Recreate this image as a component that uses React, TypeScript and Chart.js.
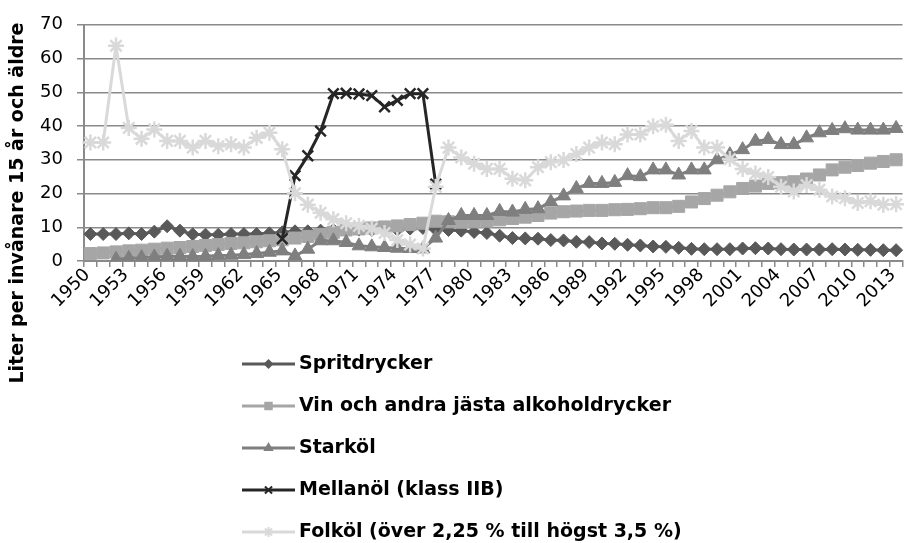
import React, { useEffect, useRef } from "react";
import { Chart, registerables } from "chart.js";

Chart.register(...registerables);

const years = [
  "1950", "1951", "1952", "1953", "1954", "1955", "1956", "1957", "1958", "1959",
  "1960", "1961", "1962", "1963", "1964", "1965", "1966", "1967", "1968", "1969",
  "1970", "1971", "1972", "1973", "1974", "1975", "1976", "1977", "1978", "1979",
  "1980", "1981", "1982", "1983", "1984", "1985", "1986", "1987", "1988", "1989",
  "1990", "1991", "1992", "1993", "1994", "1995", "1996", "1997", "1998", "1999",
  "2000", "2001", "2002", "2003", "2004", "2005", "2006", "2007", "2008", "2009",
  "2010", "2011", "2012", "2013",
];

// tick labels shown on the x axis (every third year)
const xTickLabels = [
  "1950", "1953", "1956", "1959", "1962", "1965", "1968", "1971", "1974", "1977",
  "1980", "1983", "1986", "1989", "1992", "1995", "1998", "2001", "2004", "2007",
  "2010", "2013",
];

const spritdrycker = [
  8.0, 8.0, 8.0, 8.2, 8.0, 8.7, 10.3, 9.0, 7.9, 7.8,
  7.8, 8.0, 8.0, 8.0, 8.2, 8.5, 8.8, 8.8, 9.0, 9.2,
  9.4, 9.3, 9.2, 9.1, 9.3, 9.6, 9.8, 9.3, 9.2, 9.0,
  8.6, 8.3, 7.5, 6.8, 6.7, 6.6, 6.2, 6.1, 5.7, 5.6,
  5.2, 5.1, 4.8, 4.6, 4.3, 4.2, 3.9, 3.6, 3.5, 3.5,
  3.5, 3.7, 3.8, 3.7, 3.5, 3.4, 3.4, 3.4, 3.5, 3.4,
  3.3, 3.3, 3.2, 3.2,
];

const vin = [
  2.2, 2.4, 2.7, 3.0, 3.2, 3.5, 3.8, 4.0, 4.3, 4.6,
  4.9, 5.2, 5.4, 5.7, 6.0, 6.3, 6.8, 7.3, 7.9, 8.5,
  9.2, 9.5, 9.8, 10.1, 10.4, 10.8, 11.2, 11.8, 11.6, 11.5,
  11.6, 11.8, 12.2, 12.6, 13.0, 13.5, 14.2, 14.6, 14.8, 15.0,
  15.0, 15.2, 15.3, 15.5, 15.8, 15.8, 16.2, 17.5, 18.5, 19.5,
  20.5, 21.5, 22.2, 23.0, 23.2, 23.5, 24.3, 25.5, 27.0, 27.8,
  28.3, 29.0, 29.5, 30.0,
];

const starkol = [
  null, null, 0.5, 0.8, 1.0, 1.2, 1.4, 1.4, 1.3, 1.4,
  1.6, 1.7, 1.9, 2.2, 2.6, 3.0, 1.5, 3.5, 6.0, 6.0,
  5.5, 4.5, 4.2, 4.0, 3.8, 3.7, 3.6, 6.8, 12.0, 13.5,
  13.5, 13.5, 14.7, 14.5, 15.3, 15.5, 17.5, 19.3, 21.5, 23.0,
  23.0, 23.3, 25.3, 25.0, 27.0, 27.0, 25.5, 27.0, 27.0, 30.0,
  31.5, 33.0, 35.5, 36.0, 34.5, 34.5, 36.5, 38.0, 38.7, 39.2,
  38.8, 38.8, 38.8, 39.3,
];

const mellanol = [
  null, null, null, null, null, null, null, null, null, null,
  null, null, null, null, null, 6.6, 25.3, 31.2, 38.5, 49.6,
  49.7, 49.5, 49.0, 45.7, 47.6, 49.6, 49.6, 22.8, null, null,
  null, null, null, null, null, null, null, null, null, null,
  null, null, null, null, null, null, null, null, null, null,
  null, null, null, null, null, null, null, null, null, null,
  null, null, null, null,
];

const folkol = [
  35.1, 35.1, 63.8, 39.4, 36.2, 39.0, 35.6, 35.6, 33.6, 35.6,
  34.0, 34.6, 33.6, 36.5, 38.0, 33.1, 20.1, 16.7, 14.3, 12.4,
  11.2, 10.4, 9.6, 8.3, 6.2, 4.9, 3.7, 22.0, 33.6, 30.7,
  28.8, 27.3, 27.3, 24.4, 23.9, 27.8, 29.3, 29.9, 31.7, 33.6,
  35.1, 34.6, 37.5, 37.5, 39.9, 40.4, 35.6, 38.5, 33.6, 33.6,
  30.2, 27.3, 25.9, 24.9, 22.0, 20.6, 22.5, 21.1, 19.1, 18.6,
  17.2, 17.7, 16.7, 16.8,
];

const yTicks = [0, 10, 20, 30, 40, 50, 60, 70];

const seriesNames = [
  "Spritdrycker",
  "Vin och andra jästa alkoholdrycker",
  "Starköl",
  "Mellanöl (klass IIB)",
  "Folköl (över 2,25 % till högst 3,5 %)",
];
const yTitle = "Liter per invånare 15 år och äldre";

const FONT = "'DejaVu Sans', Verdana, sans-serif";
const colors = ["#595959", "#a6a6a6", "#7f7f7f", "#262626", "#d9d9d9"];
const styles = ["rectRot", "rect", "triangle", "crossRot", "star"];
const radii = [6.5, 8.5, 8, 7.5, 8];
const legendRadii = [5, 6, 6, 5, 5];

function drawMarker(ctx: CanvasRenderingContext2D, style: string, x: number, y: number, r: number, color: string) {
  ctx.save();
  ctx.fillStyle = color;
  ctx.strokeStyle = color;
  ctx.lineWidth = 2;
  ctx.beginPath();
  if (style === "rectRot") {
    ctx.moveTo(x, y - r);
    ctx.lineTo(x + r, y);
    ctx.lineTo(x, y + r);
    ctx.lineTo(x - r, y);
    ctx.closePath();
    ctx.fill();
  } else if (style === "rect") {
    const s = r * Math.SQRT1_2;
    ctx.rect(x - s, y - s, 2 * s, 2 * s);
    ctx.fill();
  } else if (style === "triangle") {
    ctx.moveTo(x, y - r);
    ctx.lineTo(x + r * 0.866, y + r * 0.5);
    ctx.lineTo(x - r * 0.866, y + r * 0.5);
    ctx.closePath();
    ctx.fill();
  } else if (style === "crossRot") {
    const d = r * Math.SQRT1_2;
    ctx.moveTo(x - d, y - d);
    ctx.lineTo(x + d, y + d);
    ctx.moveTo(x - d, y + d);
    ctx.lineTo(x + d, y - d);
    ctx.stroke();
  } else if (style === "star") {
    const d = r * Math.SQRT1_2;
    ctx.moveTo(x - d, y - d);
    ctx.lineTo(x + d, y + d);
    ctx.moveTo(x - d, y + d);
    ctx.lineTo(x + d, y - d);
    ctx.moveTo(x, y - r);
    ctx.lineTo(x, y + r);
    ctx.stroke();
  }
  ctx.restore();
}

export default function App() {
  const ref = useRef<HTMLCanvasElement>(null);

  useEffect(() => {
    if (!ref.current) return;
    const seriesData = [spritdrycker, vin, starkol, mellanol, folkol];

    const decorPlugin = {
      id: "excelDecor",
      afterDraw(chart: any) {
        const ctx: CanvasRenderingContext2D = chart.ctx;
        const xScale = chart.scales.x;
        ctx.save();
        // rotated x tick labels
        ctx.font = `18px ${FONT}`;
        ctx.fillStyle = "#000";
        ctx.textAlign = "right";
        ctx.textBaseline = "middle";
        xTickLabels.forEach((lbl) => {
          const idx = years.indexOf(lbl);
          const px = xScale.getPixelForValue(idx);
          ctx.save();
          ctx.translate(px - 3, xScale.top + 11);
          ctx.rotate(-Math.PI / 4);
          ctx.fillText(lbl, 0, 0);
          ctx.restore();
        });

        // legend
        const rowsY = [364, 406, 448, 490, 532];
        seriesNames.forEach((name, i) => {
          const y = rowsY[i];
          ctx.strokeStyle = colors[i];
          ctx.lineWidth = 3;
          ctx.beginPath();
          ctx.moveTo(242, y);
          ctx.lineTo(295, y);
          ctx.stroke();
          drawMarker(ctx, styles[i], 268.5, y, legendRadii[i], colors[i]);
          ctx.fillStyle = "#000";
          ctx.font = `bold 19px ${FONT}`;
          ctx.textAlign = "left";
          ctx.textBaseline = "middle";
          ctx.fillText(name, 299, y);
        });
        // y-axis title
        ctx.translate(18, 203);
        ctx.rotate(-Math.PI / 2);
        ctx.font = `bold 19px ${FONT}`;
        ctx.textAlign = "center";
        ctx.textBaseline = "middle";
        ctx.fillStyle = "#000";
        ctx.fillText(yTitle, 0, 0);
        ctx.restore();
      },
    };

    const chart = new Chart(ref.current, {
      type: "line",
      data: {
        labels: years,
        datasets: seriesNames.map((name, i) => ({
          label: name,
          data: seriesData[i],
          borderColor: colors[i],
          backgroundColor: colors[i],
          borderWidth: 3,
          pointStyle: styles[i] as any,
          pointRadius: radii[i],
          pointHoverRadius: radii[i],
          pointBackgroundColor: colors[i],
          pointBorderColor: colors[i],
          pointBorderWidth: i >= 3 ? 2.5 : 1,
          tension: 0,
          spanGaps: false,
          order: 4 - i,
        })),
      },
      options: {
        animation: false,
        responsive: true,
        maintainAspectRatio: false,
        layout: { padding: { top: 19, right: 1, bottom: 232, left: 0 } },
        plugins: {
          legend: { display: false },
          tooltip: { enabled: false },
          title: { display: false },
        },
        scales: {
          x: {
            type: "category",
            offset: true,
            grid: {
              offset: true,
              drawOnChartArea: false,
              drawTicks: true,
              tickLength: 6,
              color: "#8a8a8a",
              lineWidth: 1.5,
            },
            border: { display: true, color: "#8a8a8a", width: 2 },
            ticks: {
              autoSkip: false,
              maxRotation: 0,
              minRotation: 0,
              color: "rgba(0,0,0,0)",
              font: { family: FONT, size: 10 },
              callback: () => "",
            },
            afterFit: (scale: any) => {
              scale.height = 50;
            },
          },
          y: {
            min: yTicks[0],
            max: yTicks[yTicks.length - 1],
            afterBuildTicks: (scale: any) => {
              scale.ticks = yTicks.map((v) => ({ value: v }));
            },
            grid: {
              color: "#8a8a8a",
              lineWidth: 1.5,
              drawTicks: true,
              tickLength: 7,
            },
            border: { display: true, color: "#8a8a8a", width: 2 },
            ticks: {
              color: "#000",
              padding: 14,
              font: { family: FONT, size: 18 },
            },
            afterFit: (scale: any) => {
              scale.width = 84;
            },
          },
        },
      },
      plugins: [decorPlugin],
    });

    return () => chart.destroy();
  }, []);

  return (
    <div style={{ position: "absolute", left: 0, top: 0, width: 913, height: 543, background: "#fff" }}>
      <canvas ref={ref} />
    </div>
  );
}
